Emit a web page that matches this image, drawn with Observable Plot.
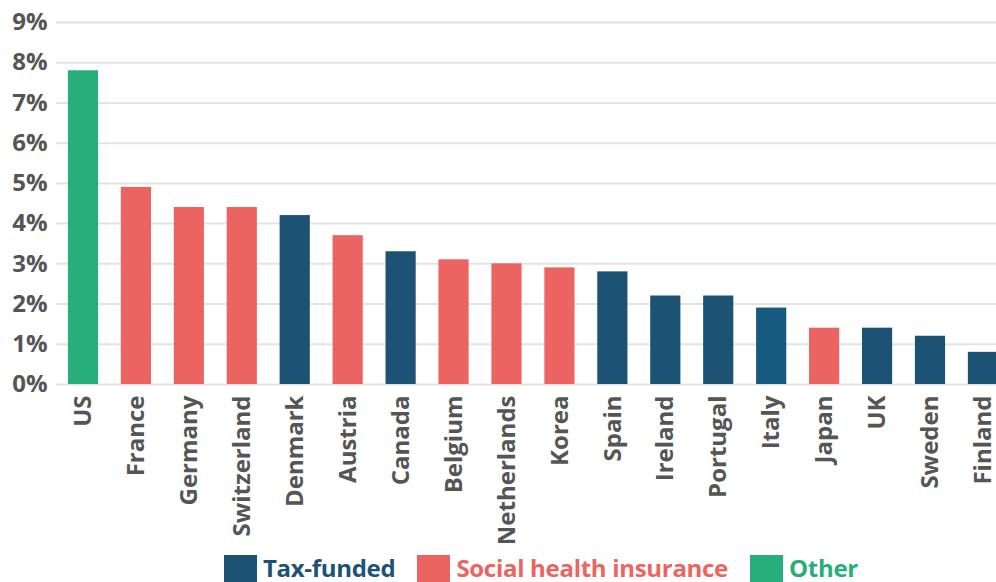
<!DOCTYPE html>
<html><head><meta charset="utf-8">
<script src="https://cdn.jsdelivr.net/npm/d3@7"></script>
<script src="https://cdn.jsdelivr.net/npm/@observablehq/plot@0.6"></script>
<style>
html,body{margin:0;padding:0;background:#fff;overflow:hidden;}
#chart{position:relative;width:996px;height:582px;font-family:"Open Sans",sans-serif;}
#chart svg{position:absolute;left:0;top:0;}
#legend{position:absolute;left:224px;top:555px;display:flex;align-items:flex-start;white-space:nowrap;}
.item{display:flex;align-items:flex-start;margin-right:22px;}
.sw{width:33px;height:33px;margin-right:6px;}
.lab{font-size:24px;font-weight:700;line-height:22px;margin-top:2px;letter-spacing:-0.3px;}
</style></head>
<body><div id="chart"><div id="legend"></div></div>
<script>
const countries = ["US","France","Germany","Switzerland","Denmark","Austria","Canada","Belgium","Netherlands","Korea","Spain","Ireland","Portugal","Italy","Japan","UK","Sweden","Finland"];
const shares = [7.8,4.9,4.4,4.4,4.2,3.7,3.3,3.1,3.0,2.9,2.8,2.2,2.2,1.9,1.4,1.4,1.2,0.8];
const systems = ["Other","Social health insurance","Social health insurance","Social health insurance","Tax-funded","Social health insurance","Tax-funded","Social health insurance","Social health insurance","Social health insurance","Tax-funded","Tax-funded","Tax-funded","Tax-funded","Social health insurance","Tax-funded","Tax-funded","Tax-funded"];
const typeNames = ["Tax-funded","Social health insurance","Other"];
const typeColors = ["#1c5274","#ec6461","#27ae7a"];
const yTicks = [0,1,2,3,4,5,6,7,8,9];

const data = countries.map((c,i)=>({country:c, value:shares[i], type:systems[i]}));
const colorOf = d3.scaleOrdinal(typeNames, typeColors);

const plot = Plot.plot({
  width:996, height:548,
  marginLeft:56, marginRight:0, marginTop:22, marginBottom:164,
  style:{fontFamily:"Open Sans, sans-serif", fontSize:"24px", fontWeight:700, color:"#555", background:"transparent"},
  x:{domain:countries, range:[56.5,1009.4], paddingInner:0.43, paddingOuter:0.215, round:false, label:null},
  y:{domain:[0,9], range:[384,22], label:null},
  marks:[
    Plot.ruleY(yTicks,{stroke:"#e3e3e3", strokeWidth:2}),
    Plot.barY(data,{x:"country", y:"value", fill:d => d.country === "Italy" ? "#175a80" : colorOf(d.type)}),
    Plot.axisY({ticks:yTicks, tickSize:0, tickPadding:9, tickFormat:d=>d+"%", fill:"#555", fontSize:24, fontWeight:700, label:null}),
    Plot.axisX({tickSize:0, tickPadding:11, tickRotate:-90, fill:"#555", fontSize:24, fontWeight:700, label:null})
  ]
});
document.getElementById("chart").prepend(plot);

const legend = document.getElementById("legend");
typeNames.forEach((n,i)=>{
  const it = document.createElement("div"); it.className="item";
  const sw = document.createElement("div"); sw.className="sw"; sw.style.background=typeColors[i];
  const lb = document.createElement("div"); lb.className="lab"; lb.style.color=typeColors[i]; lb.textContent=n;
  it.append(sw, lb); legend.append(it);
});
</script>
</body></html>
